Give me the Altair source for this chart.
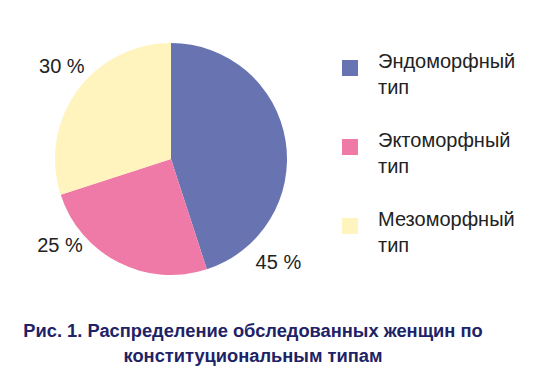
import altair as alt
import pandas as pd

categories = ["Эндоморфный тип", "Эктоморфный тип", "Мезоморфный тип"]
values = [45, 25, 30]
labels = ["45 %", "25 %", "30 %"]
colors = ["#6873B1", "#EF7AA7", "#FFF4BD"]
title_lines = ["Рис. 1. Распределение обследованных женщин по", "конституциональным типам"]

df = pd.DataFrame({"cat": categories, "value": values, "label": labels,
                   "idx": list(range(len(categories)))})

LFONT = "Liberation Sans, Arial, sans-serif"

base = alt.Chart(df)

pie = base.mark_arc(outerRadius=116).encode(
    theta=alt.Theta("value:Q", stack=True),
    color=alt.Color(
        "cat:N",
        scale=alt.Scale(domain=categories, range=colors),
        legend=alt.Legend(
            title=None, orient="none", legendX=332, legendY=50,
            symbolType="square", symbolSize=256, symbolStrokeWidth=0, symbolOpacity=1,
            labelFont=LFONT, labelFontSize=20, labelColor="#222222",
            labelOffset=18, labelBaseline="alphabetic", labelLimit=300,
            labelExpr="split(datum.label, ' ')", rowPadding=33, padding=0,
        ),
    ),
    order=alt.Order("idx:Q"),
)

offsets = [(-21, 124), (-52, -29), (-4, -16)]
layers = [pie]
for cat, (dx, dy) in zip(categories, offsets):
    layers.append(
        base.transform_window(cum="sum(value)", sort=[{"field": "idx"}])
        .transform_calculate(mid="datum.cum - datum.value / 2")
        .transform_filter(alt.datum.cat == cat)
        .mark_text(radius=130, dx=dx, dy=dy, font=LFONT, fontSize=20,
                   color="#222222", align="center", baseline="middle")
        .encode(
            theta=alt.Theta("mid:Q", stack=None),
            text="label:N",
        )
    )

chart = alt.layer(*layers).properties(
    width=326, height=302,
    title=alt.TitleParams(
        text=title_lines, orient="bottom", anchor="middle", frame="group",
        font=LFONT, fontSize=18.3, fontWeight="bold", color="#1E2266",
        offset=13, dx=82, lineHeight=25,
    ),
).configure_view(stroke=None).configure(
    padding=0, style={"guide-label": {"lineHeight": 26}}
)

chart.save("out.html", embed_options={"renderer": "svg", "actions": False})
